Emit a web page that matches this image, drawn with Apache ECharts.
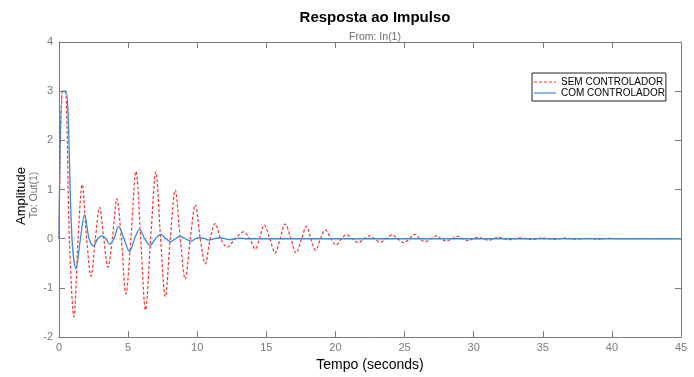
<!DOCTYPE html>
<html>
<head>
<meta charset="utf-8">
<script src="https://cdn.jsdelivr.net/npm/echarts@6/dist/echarts.min.js"></script>
<style>
html,body{margin:0;padding:0;background:#fff;}
#chart{width:694px;height:377px;}
</style>
</head>
<body>
<div id="chart"></div>
<script>
// ---- data ----
const xTicks = [0,5,10,15,20,25,30,35,40,45];
const yTicks = [-2,-1,0,1,2,3,4];

const semT = [0,0.26,0.45,0.75,1.08,1.38,1.68,2.0,2.32,2.63,2.94,3.24,3.54,3.86,4.19,4.51,4.84,5.2,5.57,5.91,6.26,6.63,7.01,7.35,7.69,8.05,8.41,8.77,9.13,9.5,9.86,10.22,10.58,10.94,11.3,11.7,12.18,12.75,13.35,13.8,14.2,14.5,14.85,15.25,15.64,16.0,16.36,16.78,17.15,17.55,17.9,18.22,18.57,18.92,19.26,19.68,20.05,20.43,20.8,21.23,21.66,22.06,22.46,22.83,23.25,23.66,24.1,24.5,24.95,25.35,25.74,26.1,26.5,26.9,27.3,27.65,28.0,28.42,28.85,29.22,29.6,29.95,30.3,30.7,31.1,31.45,31.8,32.2,32.6,33.0,33.4,33.8,34.2,34.6,35.0,35.4,35.8,36.2,36.6,37.0,37.4,37.8,38.2,38.6,39.0,39.4,39.8,40.5,45];
const semY = [0,3,3,0,-1.59,0,1.10,0,-0.76,0,0.64,0,-0.58,0,0.81,0,-1.12,0,1.37,0,-1.45,0,1.36,0,-1.18,0,0.99,0,-0.82,0,0.69,0,-0.51,0,0.31,0,-0.17,0,0.14,0,-0.21,0,0.28,0,-0.29,0,0.30,0,-0.29,0,0.25,0,-0.23,0,0.18,0,-0.13,0,0.08,0,-0.08,0,0.06,0,-0.07,0,0.08,0,-0.08,0,0.09,0,-0.06,0,0.06,0,-0.05,0,0.05,0,-0.04,0,0.03,0,-0.03,0,0.03,0,-0.02,0,0.02,0,-0.02,0,0.02,0,-0.015,0,0.015,0,-0.01,0,0.01,0,-0.01,0,0.01,0,0];

const comT = [0,0.26,0.5,0.94,1.23,1.55,1.85,2.18,2.5,2.8,3.1,3.4,3.66,3.98,4.31,4.7,5.11,5.47,5.83,6.2,6.6,6.98,7.37,7.73,8.1,8.43,8.77,9.15,9.54,9.87,10.2,10.55,10.85,11.25,11.66,12.0,12.4,12.75,13.1,13.6,45];
const comY = [0,3,3,0,-0.61,0,0.49,0,-0.15,0,0.06,0,-0.11,0,0.25,0,-0.26,0,0.19,0,-0.13,0,0.09,0,-0.06,0,0.05,0,-0.05,0,0.02,0,-0.03,0,0.02,0,-0.02,0,0.01,0,0];

const names = ['SEM CONTROLADOR','COM CONTROLADOR'];

const zip = (a,b) => a.map((v,i)=>[v,b[i]]);

const axisGray = '#7a7a7a';
const labelGray = '#7a7a7a';
const font = 'Liberation Sans, Arial, Helvetica, sans-serif';
const dashIcon = 'path://M0,0h3v1.2h-3z M5,0h3v1.2h-3z M10,0h3v1.2h-3z M15,0h3v1.2h-3z M20,0h2v1.2h-2z';
const solidIcon = 'path://M0,0h22v1.2h-22z';

const tick = () => ({show:true,inside:true,length:6,lineStyle:{color:axisGray,width:1}});
const aline = () => ({show:true,onZero:false,lineStyle:{color:axisGray,width:1}});

const chart = echarts.init(document.getElementById('chart'));
chart.setOption({
  animation:false,
  title:[
    {text:'Resposta ao Impulso', left:370, top:5, textAlign:'center',
     textStyle:{fontFamily:font,fontSize:15,fontWeight:'bold',color:'#000'}},
    {text:'From: In(1)', left:370, top:27, textAlign:'center',
     textStyle:{fontFamily:font,fontSize:10.5,fontWeight:'normal',color:'#6e6e6e'}}
  ],
  graphic:[
    {type:'text', x:21, y:196, rotation:Math.PI/2,
     style:{text:'Amplitude', font:'13px '+font, fill:'#000', textAlign:'center', textVerticalAlign:'middle'}},
    {type:'text', x:34, y:195, rotation:Math.PI/2,
     style:{text:'To: Out(1)', font:'10.5px '+font, fill:'#6e6e6e', textAlign:'center', textVerticalAlign:'middle'}}
  ],
  legend:{
    data:[{name:names[0], icon:dashIcon},{name:names[1], icon:solidIcon}],
    orient:'vertical', left:532, top:73,
    backgroundColor:'#fff', borderColor:'#222', borderWidth:1,
    padding:[4,1,3,2], itemGap:1, itemWidth:22, itemHeight:10,
    textStyle:{fontFamily:font,fontSize:10,color:'#000',lineHeight:10}
  },
  grid:{left:59, right:13, top:42, bottom:36},
  xAxis:[
    {type:'value', min:0, max:45, interval:5,
     name:'Tempo (seconds)', nameLocation:'middle', nameGap:18,
     nameTextStyle:{fontFamily:font,fontSize:14,color:'#000'},
     axisLine:aline(), axisTick:tick(),
     axisLabel:{fontFamily:font,fontSize:11,color:labelGray,margin:5},
     splitLine:{show:false}},
    {type:'value', min:0, max:45, interval:5, position:'top',
     axisLine:aline(), axisTick:tick(),
     axisLabel:{show:false}, splitLine:{show:false}}
  ],
  yAxis:[
    {type:'value', min:-2, max:4, interval:1,
     axisLine:aline(), axisTick:tick(),
     axisLabel:{fontFamily:font,fontSize:11,color:labelGray,margin:6},
     splitLine:{show:false}},
    {type:'value', min:-2, max:4, interval:1, position:'right',
     axisLine:aline(), axisTick:tick(),
     axisLabel:{show:false}, splitLine:{show:false}}
  ],
  series:[
    {name:'zero', type:'line', data:[[0,0],[45,0]], symbol:'none', silent:true,
     lineStyle:{color:'#b0b0b0', width:1, type:[1,2]}},
    {name:names[0], type:'line', data:zip(semT,semY), symbol:'none', smooth:0.35,
     lineStyle:{color:'#ff3030', width:1.2, type:[3,2]}, itemStyle:{color:'#ff3030'}},
    {name:names[1], type:'line', data:zip(comT,comY), symbol:'none', smooth:0.35,
     lineStyle:{color:'#3a8ad4', width:1.3}, itemStyle:{color:'#3a8ad4'}}
  ]
});
</script>
</body>
</html>
